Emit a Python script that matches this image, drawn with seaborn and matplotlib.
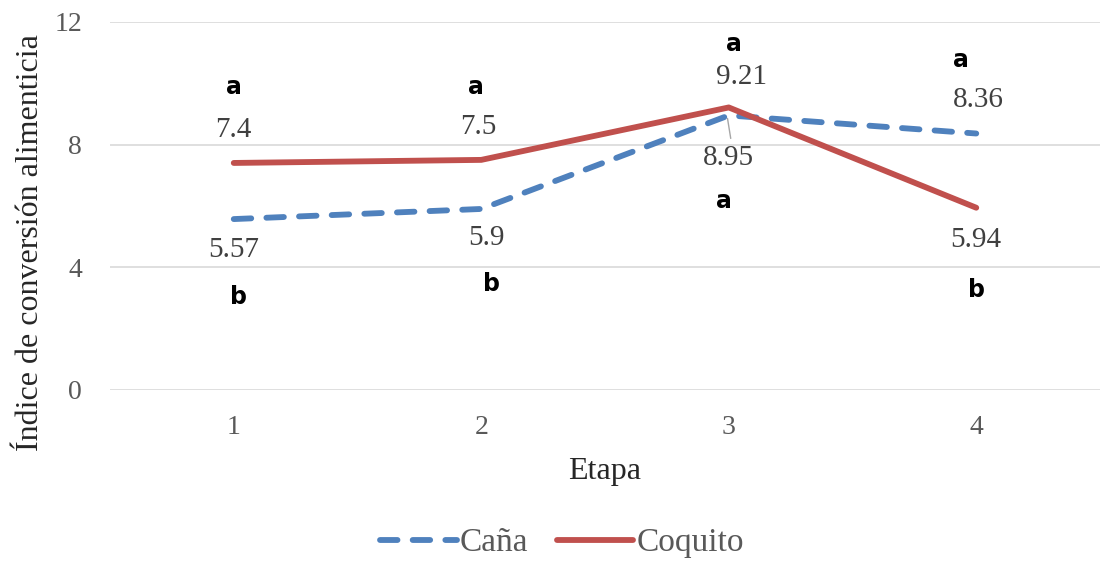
import pandas as pd
import matplotlib.pyplot as plt
import seaborn as sns

etapa = [1, 2, 3, 4]
cana = [5.57, 5.9, 8.95, 8.36]
coquito = [7.4, 7.5, 9.21, 5.94]
letras_cana = ['b', 'b', 'a', 'a']
letras_coquito = ['a', 'a', 'a', 'b']

df = pd.DataFrame({
    'Etapa': etapa * 2,
    'valor': cana + coquito,
    'serie': ['Caña'] * 4 + ['Coquito'] * 4,
})

sns.set_style('white')
plt.rcParams['font.family'] = ['Liberation Serif', 'DejaVu Serif']

fig = plt.figure(figsize=(11, 5.61), dpi=100)
ax = fig.add_axes([0.1, 0.305, 0.9, 0.656])

colores = {'Caña': '#4F81BD', 'Coquito': '#C0504D'}
sns.lineplot(data=df, x='Etapa', y='valor', hue='serie', style='serie',
             palette=colores, dashes={'Caña': (3, 2.6), 'Coquito': ''},
             linewidth=4.2, ax=ax, legend=False)
for ln in ax.lines:
    ln.set_dash_capstyle('round')
    ln.set_solid_capstyle('round')
# red line on top
ax.lines[1].set_zorder(3)
ax.lines[0].set_zorder(2)

ax.set_xlim(0.5, 4.5)
ax.set_ylim(0, 12)
ax.set_yticks([0, 4, 8, 12])
ax.set_xticks(etapa)
ax.yaxis.grid(True, color='#D9D9D9', linewidth=1.2)
ax.set_axisbelow(True)
for s in ax.spines.values():
    s.set_visible(False)
ax.tick_params(axis='both', length=0, labelsize=20, colors='#595959')
ax.tick_params(axis='y', pad=20)
ax.tick_params(axis='x', pad=18)
ax.set_xlabel('Etapa', fontsize=23, labelpad=12)
ax.set_ylabel('Índice de conversión alimenticia', fontsize=23)
ax.yaxis.set_label_coords(-0.066, 0.4)

gris = '#404040'
# label positions (upper / lower at each stage)
pos_val_arriba = [(1.0, 8.48), (1.99, 8.58), (3.05, 10.2), (4.01, 9.46)]
pos_val_abajo = [(1.0, 4.56), (2.02, 4.96), (3.0, 7.56), (4.0, 4.89)]
pos_let_arriba = [(1.0, 9.88), (1.98, 9.88), (3.02, 11.28), (3.94, 10.76)]
pos_let_abajo = [(1.02, 3.03), (2.04, 3.46), (2.98, 6.16), (4.0, 3.26)]
for i in range(4):
    if coquito[i] >= cana[i]:
        arriba, abajo = (coquito[i], letras_coquito[i]), (cana[i], letras_cana[i])
    else:
        arriba, abajo = (cana[i], letras_cana[i]), (coquito[i], letras_coquito[i])
    for (v, l), pv, pl in [(arriba, pos_val_arriba[i], pos_let_arriba[i]),
                           (abajo, pos_val_abajo[i], pos_let_abajo[i])]:
        ax.text(*pv, f'{v:g}', ha='center', va='center', fontsize=21,
                color=gris)
        ax.text(*pl, l, ha='center', va='center', fontsize=17,
                fontweight='bold', color='black', family=['DejaVu Sans'])
# leader line for 8.95
ax.plot([2.995, 3.008], [8.85, 8.2], color='#A6A6A6', linewidth=1, zorder=4)

h = [plt.Line2D([], [], color=colores['Caña'], linewidth=4.2,
                dashes=(3, 2.6), dash_capstyle='round'),
     plt.Line2D([], [], color=colores['Coquito'], linewidth=4.2,
                solid_capstyle='round')]
fig.legend(h, ['Caña', 'Coquito'], loc='center', bbox_to_anchor=(0.511, 0.032),
           ncol=2, frameon=False, fontsize=24, handlelength=2.3,
           handletextpad=0.1, columnspacing=0.85, labelcolor='#595959')

fig.savefig('out.png', dpi=100)
